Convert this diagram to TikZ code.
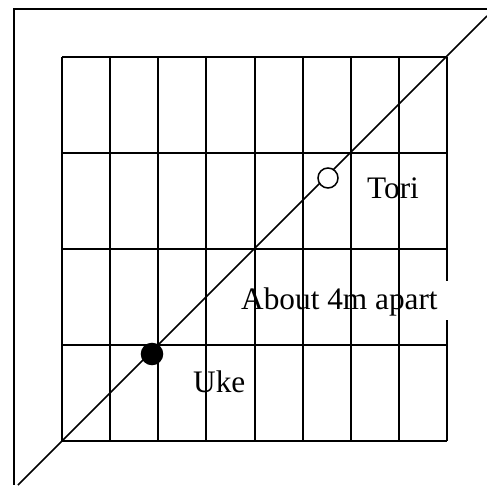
\documentclass[tikz,border=0pt]{standalone}
\usepackage{fontspec}
\setmainfont{Liberation Serif}
\begin{document}
\begin{tikzpicture}[x=1pt,y=-1pt,
  gridline/.style={line width=1.8pt,black},
  diag/.style={line width=1.5pt,black},
  lbl/.style={anchor=base west,inner sep=0pt,font=\fontsize{31.3}{37}\selectfont},
  person/.style={circle,draw=black,line width=1.5pt,inner sep=0pt,minimum size=#1}]
\useasboundingbox (0,0) rectangle (487,485);
% outer frame (top and left only)
\draw[gridline] (487,9) -- (14,9) -- (14,485);
% grid verticals (interior)
\foreach \x in {62,110,158,206,255,303,351,399} {
  \draw[gridline] (\x,57) -- (\x,441);
}
% right border with gap
\draw[gridline] (447,57) -- (447,281);
\draw[gridline] (447,320) -- (447,441);
% horizontals
\foreach \y in {57,153,249,345,441} {
  \draw[gridline] (62,\y) -- (447,\y);
}
% diagonal
\draw[diag] (18,485) -- (487,16);
% people
\node[person=20pt,fill=white] (tori) at (328,178) {};
\node[person=21pt,fill=black] (uke) at (152,354) {};
% labels
\node[lbl] (toril) at (367,198) {Tori};
\node[lbl] (ukel) at (193,392) {Uke};
\node[lbl] (apart) at (241,309) {About 4m apart};
\end{tikzpicture}
\end{document}
